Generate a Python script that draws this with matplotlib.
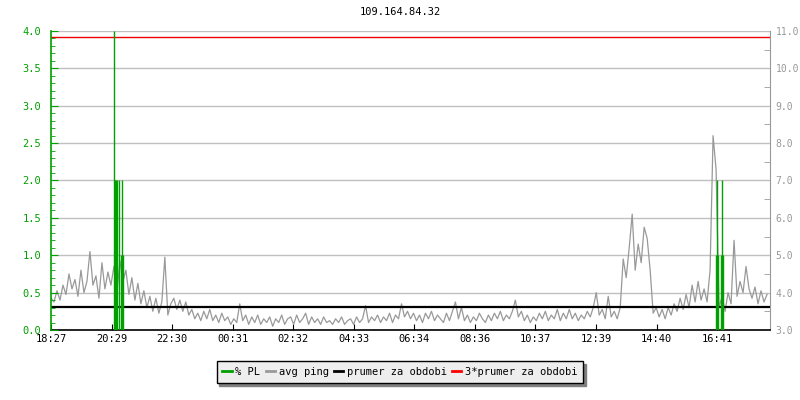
import matplotlib
matplotlib.use("Agg")
import matplotlib.pyplot as plt
from matplotlib.lines import Line2D
from matplotlib.ticker import MultipleLocator, FormatStrFormatter
import numpy as np

plt.rcParams['font.family'] = ['DejaVu Sans Mono']

title = "109.164.84.32"
step_min = 6  # minutes between avg ping samples, starting 18:27

avg_ping = [
    3.85, 3.75, 4.05, 3.8, 4.2, 3.95, 4.5, 4.1, 4.35, 3.9, 4.6, 4.0, 4.3, 5.1, 4.2, 4.45, 3.85, 4.8, 4.1, 4.55, 4.2,
    4.7, 4.0, 4.85, 4.3, 4.6, 3.95, 4.4, 3.8, 4.25, 3.7, 4.05, 3.6, 3.9, 3.5, 3.85, 3.45, 3.75, 4.95, 3.4, 3.7,
    3.85, 3.55, 3.8, 3.5, 3.75, 3.4, 3.55, 3.3, 3.45, 3.25, 3.5, 3.3, 3.55, 3.25, 3.4, 3.2, 3.45, 3.25, 3.35, 3.15,
    3.3, 3.2, 3.7, 3.25, 3.4, 3.15, 3.35, 3.2, 3.4, 3.15, 3.3, 3.2, 3.35, 3.1, 3.3, 3.2, 3.4, 3.15, 3.3, 3.35,
    3.15, 3.4, 3.2, 3.3, 3.45, 3.15, 3.35, 3.2, 3.3, 3.15, 3.35, 3.2, 3.25, 3.15, 3.3, 3.2, 3.35, 3.15, 3.25, 3.3,
    3.15, 3.35, 3.2, 3.3, 3.65, 3.2, 3.35, 3.25, 3.4, 3.2, 3.35, 3.25, 3.45, 3.2, 3.4, 3.3, 3.7, 3.35, 3.5, 3.3,
    3.45, 3.25, 3.4, 3.2, 3.45, 3.3, 3.5, 3.25, 3.4, 3.3, 3.2, 3.45, 3.25, 3.5, 3.75, 3.3, 3.6, 3.25, 3.4, 3.2,
    3.35, 3.25, 3.45, 3.3, 3.2, 3.4, 3.25, 3.45, 3.3, 3.5, 3.25, 3.4, 3.3, 3.5, 3.8, 3.35, 3.5, 3.25, 3.4, 3.2,
    3.35, 3.25, 3.45, 3.3, 3.5, 3.25, 3.4, 3.3, 3.55, 3.25, 3.45, 3.3, 3.55, 3.3, 3.45, 3.25, 3.4, 3.3, 3.5, 3.35,
    3.6, 4.0, 3.4, 3.55, 3.3, 3.9, 3.35, 3.5, 3.3,
    3.6, 4.9, 4.4, 5.2, 6.1, 4.6, 5.3, 4.8, 5.75, 5.45, 4.6,
    3.45, 3.6, 3.35, 3.55, 3.3, 3.6, 3.4, 3.7, 3.5, 3.85, 3.55, 3.95, 3.6, 4.2, 3.75, 4.3, 3.8, 4.1, 3.75, 4.6,
    8.2, 7.3, 3.6, 3.9, 3.5, 4.0, 3.7, 5.4, 3.9, 4.3, 4.0, 4.7, 4.1, 3.85, 4.15, 3.7, 4.05, 3.75, 3.95,
]

# packet loss events: minutes after 18:27 and % PL
pl_times = [126.2, 128.2, 130.2, 132.2, 136.8, 140.2, 142.8, 144.2,
            1332.8, 1334.4, 1335.8, 1342.8, 1344.4, 1345.8]
pl_values = [4.0, 2.0, 2.0, 2.0, 2.0, 1.0, 2.0, 1.0,
             1.0, 2.0, 1.0, 1.0, 2.0, 1.0]

period_mean = 3.61           # prumer za obdobi (ms)
tick_labels = ["18:27", "20:29", "22:30", "00:31", "02:32", "04:33",
               "06:34", "08:36", "10:37", "12:39", "14:40", "16:41"]

GREEN = "#00a000"
GREY = "#999999"
GRID = "#c0c0c0"
RED = "#ee0000"

t = np.arange(len(avg_ping)) * step_min

def minutes_from_start(lbl, start="18:27"):
    h, m = map(int, lbl.split(":"))
    sh, sm = map(int, start.split(":"))
    d = (h * 60 + m) - (sh * 60 + sm)
    return d % 1440

tick_pos = [minutes_from_start(l) for l in tick_labels]

fig = plt.figure(figsize=(8, 4), dpi=100)
ax2 = fig.add_axes([0.06375, 0.175, 0.89875, 0.7475])
ax = fig.add_axes(ax2.get_position(), sharex=ax2)
ax.patch.set_visible(False)

# ping axis (right)
ax2.set_xlim(0, 1440)
ax2.set_ylim(3.0, 11.0)
ax2.yaxis.tick_right()
ax2.yaxis.set_major_locator(MultipleLocator(1.0))
ax2.yaxis.set_minor_locator(MultipleLocator(0.5))
ax2.yaxis.set_major_formatter(FormatStrFormatter("%.1f"))
ax2.grid(True, axis="y", which="major", color=GRID, linewidth=1.0)
ax2.set_axisbelow(True)
ax2.plot(t, avg_ping, color=GREY, linewidth=0.9, zorder=2)
ax2.axhline(period_mean, color="black", linewidth=1.6, zorder=3)
ax2.axhline(3 * period_mean, color=RED, linewidth=1.0, zorder=3)
ax2.tick_params(axis="y", which="both", direction="in", colors=GREY, labelsize=7,
                right=True, left=False, labelright=True, labelleft=False)
ax2.tick_params(axis="y", which="major", length=0, pad=4)
ax2.tick_params(axis="y", which="minor", length=4)
ax2.set_xticks(tick_pos)
ax2.set_xticklabels(tick_labels)
ax2.tick_params(axis="x", direction="in", length=4, colors="black", labelsize=7.5, pad=3)
for s in ["top", "left"]:
    ax2.spines[s].set_visible(False)
ax2.spines["right"].set_color(GREY)
ax2.spines["bottom"].set_color("black")
ax2.spines["bottom"].set_linewidth(1.2)

# PL axis (left)
ax.set_ylim(0.0, 4.0)
ax.vlines(pl_times, 0, pl_values, colors=GREEN, linewidth=1.0, zorder=4)
ax.yaxis.set_major_locator(MultipleLocator(0.5))
ax.yaxis.set_minor_locator(MultipleLocator(0.1))
ax.yaxis.set_major_formatter(FormatStrFormatter("%.1f"))
ax.tick_params(axis="y", which="both", direction="in", colors=GREEN, labelsize=7.5)
ax.tick_params(axis="y", which="major", length=5, pad=7)
ax.tick_params(axis="y", which="minor", length=3)
ax.tick_params(axis="x", bottom=False, labelbottom=False)
for s in ["top", "right", "bottom"]:
    ax.spines[s].set_visible(False)
ax.spines["left"].set_color(GREEN)
ax.spines["left"].set_linewidth(1.2)

fig.text(0.5, 0.97, title, ha="center", va="center", fontsize=7.5, color="black")

handles = [
    Line2D([], [], color=GREEN, linewidth=2),
    Line2D([], [], color=GREY, linewidth=2),
    Line2D([], [], color="black", linewidth=2),
    Line2D([], [], color="#ff0000", linewidth=2),
]
labels = ["% PL", "avg ping", "prumer za obdobi", "3*prumer za obdobi"]
leg = fig.legend(handles, labels, loc="center", bbox_to_anchor=(0.5, 0.07), ncol=4,
                 fontsize=7.5, handlelength=0.9, handletextpad=0.35, columnspacing=0.5,
                 frameon=True, fancybox=False, borderpad=0.55,
                 shadow={"ox": 2, "oy": -2, "color": "#808080", "alpha": 1})
leg.get_frame().set_facecolor("#eeeeee")
leg.get_frame().set_edgecolor("black")
leg.get_frame().set_linewidth(1.0)
leg.get_frame().set_alpha(1)

fig.savefig("out.png", dpi=100, facecolor="white")
